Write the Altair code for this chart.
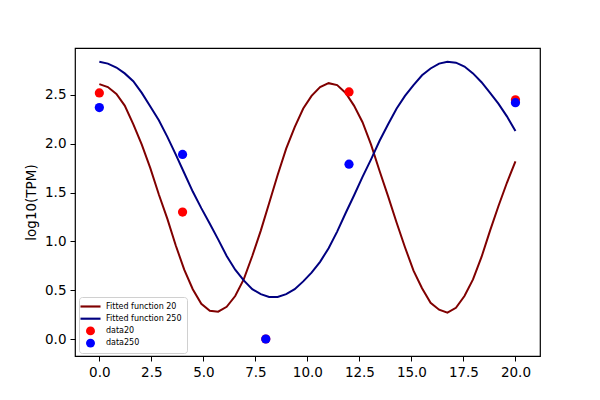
import altair as alt
import pandas as pd

# sample grid of the fitted curves (time)
fit_x = [0.0, 0.41, 0.82, 1.22, 1.63, 2.04, 2.45, 2.86, 3.27, 3.67,
         4.08, 4.49, 4.90, 5.31, 5.71, 6.12, 6.53, 6.94, 7.35, 7.76,
         8.16, 8.57, 8.98, 9.39, 9.80, 10.20, 10.61, 11.02, 11.43, 11.84,
         12.24, 12.65, 13.06, 13.47, 13.88, 14.29, 14.69, 15.10, 15.51, 15.92,
         16.33, 16.73, 17.14, 17.55, 17.96, 18.37, 18.78, 19.18, 19.59, 20.0]

fit20 = [2.61, 2.58, 2.51, 2.39, 2.20, 1.99, 1.75, 1.48, 1.23, 0.96,
         0.71, 0.51, 0.36, 0.29, 0.28, 0.33, 0.44, 0.61, 0.85, 1.11,
         1.39, 1.68, 1.95, 2.17, 2.36, 2.49, 2.58, 2.62, 2.60, 2.52,
         2.39, 2.22, 1.99, 1.72, 1.46, 1.19, 0.94, 0.70, 0.52, 0.37,
         0.30, 0.27, 0.32, 0.44, 0.61, 0.84, 1.11, 1.36, 1.60, 1.82]

fit250 = [2.84, 2.82, 2.78, 2.72, 2.64, 2.52, 2.38, 2.24, 2.07, 1.89,
          1.70, 1.51, 1.34, 1.18, 1.02, 0.85, 0.71, 0.60, 0.51, 0.46,
          0.43, 0.43, 0.46, 0.51, 0.59, 0.68, 0.79, 0.93, 1.10, 1.29,
          1.47, 1.66, 1.84, 2.03, 2.20, 2.36, 2.49, 2.60, 2.70, 2.77,
          2.82, 2.84, 2.83, 2.79, 2.72, 2.63, 2.52, 2.41, 2.28, 2.13]

data_x = [0, 4, 8, 12, 20]
data20 = [2.52, 1.30, 0.0, 2.53, 2.45]
data250 = [2.37, 1.89, 0.0, 1.79, 2.42]

x_ticks = [0.0, 2.5, 5.0, 7.5, 10.0, 12.5, 15.0, 17.5, 20.0]
y_ticks = [0.0, 0.5, 1.0, 1.5, 2.0, 2.5]

series = ["Fitted function 20", "Fitted function 250", "data20", "data250"]
colors = ["#800000", "#000080", "#ff0000", "#0000ff"]
line_shape = "M-2.24,-0.24H2.24V0.24H-2.24Z"
shapes = [line_shape, line_shape, "circle", "circle"]

lines_df = pd.concat([
    pd.DataFrame({"x": fit_x, "y": fit20, "series": series[0]}),
    pd.DataFrame({"x": fit_x, "y": fit250, "series": series[1]}),
])
points_df = pd.concat([
    pd.DataFrame({"x": data_x, "y": data20, "series": series[2]}),
    pd.DataFrame({"x": data_x, "y": data250, "series": series[3]}),
])

xs = alt.Scale(domain=[-1.17, 21.18], nice=False, zero=False)
ys = alt.Scale(domain=[-0.174, 2.98], nice=False, zero=False)
cs = alt.Scale(domain=series, range=colors)

x_enc = alt.X("x:Q", scale=xs, title=None,
              axis=alt.Axis(values=x_ticks, format=".1f"))
y_enc = alt.Y("y:Q", scale=ys, title="log10(TPM)",
              axis=alt.Axis(values=y_ticks, format=".1f"))


def leg():
    return alt.Legend(orient="none", legendX=4, legendY=249, title=None)


lines = alt.Chart(lines_df).mark_line(strokeWidth=2, clip=True).encode(
    x=x_enc, y=y_enc,
    color=alt.Color("series:N", scale=cs, title=None, legend=leg()),
    detail="series:N",
)

points = alt.Chart(points_df).mark_point(filled=True, size=85, opacity=1).encode(
    x=x_enc, y=y_enc,
    color=alt.Color("series:N", scale=cs, title=None, legend=leg()),
    shape=alt.Shape("series:N", scale=alt.Scale(domain=series, range=shapes),
                    title=None, legend=leg()),
    order=alt.Order("series:N"),
)

chart = alt.layer(lines, points).properties(
    width=465, height=308,
    autosize=alt.AutoSizeParams(type="none"),
    padding={"left": 67, "top": 40, "right": 52, "bottom": 36},
).configure_view(
    stroke="black", strokeWidth=1.2
).configure_axis(
    domain=False, grid=False, tickColor="black", tickSize=5, tickWidth=1,
    labelFont="DejaVu Sans", labelFontSize=13.5, labelColor="black",
    labelPadding=4, titleFont="DejaVu Sans", titleFontSize=13.5,
    titleFontWeight="normal", titleColor="black", titlePadding=6,
    labelFlush=False, labelOverlap=False,
).configure_legend(
    labelFont="DejaVu Sans", labelFontSize=8, labelColor="black",
    symbolSize=80, symbolStrokeWidth=0, padding=5, rowPadding=3.2,
    strokeColor="#d0d0d0", fillColor="white", cornerRadius=3,
    labelOffset=11, symbolOffset=2,
)

chart.save("out.html", embed_options={"renderer": "svg", "actions": False})
